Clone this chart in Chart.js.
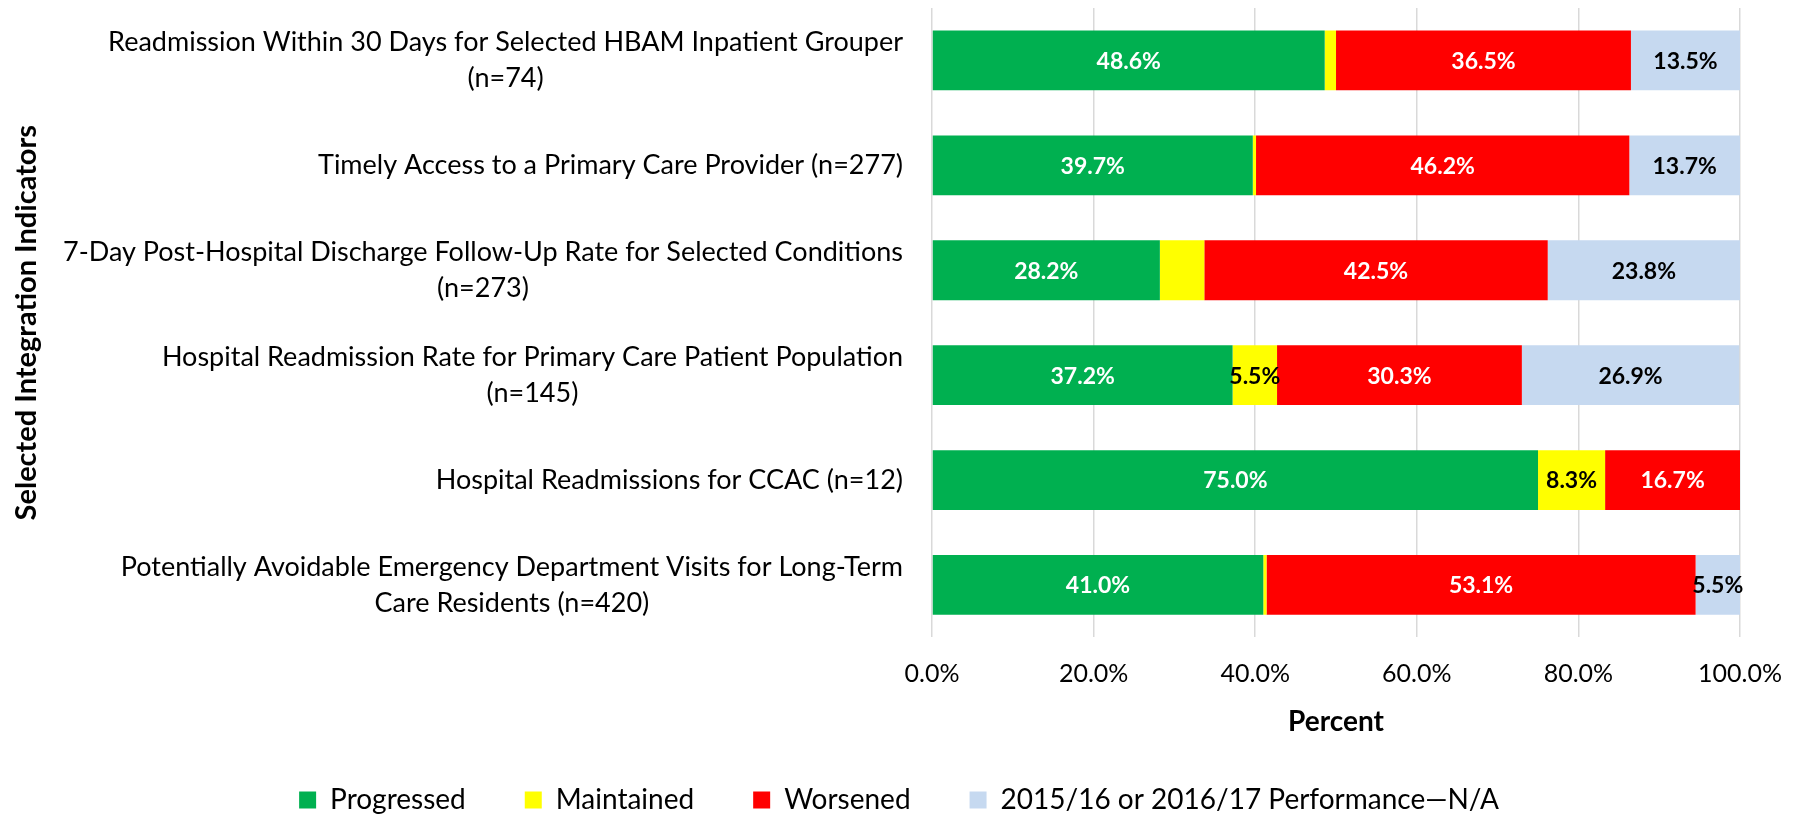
<!DOCTYPE html>
<html><head><meta charset="utf-8">
<script src="https://cdn.jsdelivr.net/npm/chart.js@4.4.1/dist/chart.umd.min.js"></script>
<style>html,body{margin:0;padding:0;background:#fff}#wrap{width:1804px;height:817px;position:relative}</style>
</head><body><div id="wrap"><canvas id="c"></canvas></div>
<script>
const categories = [
  ["Readmission Within 30 Days for Selected HBAM Inpatient Grouper", "(n=74)"],
  ["Timely Access to a Primary Care Provider (n=277)"],
  ["7-Day Post-Hospital Discharge Follow-Up Rate for Selected Conditions", "(n=273)"],
  ["Hospital Readmission Rate for Primary Care Patient Population", "(n=145)"],
  ["Hospital Readmissions for CCAC (n=12)"],
  ["Potentially Avoidable Emergency Department Visits for Long-Term", "Care Residents (n=420)"]
];
const progressed   = [48.6, 39.7, 28.2, 37.2, 75.0, 41.0];
const maintained   = [1.4, 0.4, 5.5, 5.5, 8.3, 0.4];
const worsened     = [36.5, 46.2, 42.5, 30.3, 16.7, 53.1];
const notAvailable = [13.5, 13.7, 23.8, 26.9, 0, 5.5];
const maintainedLabelShown = [false, false, false, true, true, false];
const seriesNames = ["Progressed", "Maintained", "Worsened", "2015/16 or 2016/17 Performance\u2014N/A"];
const xTickValues = [0, 20, 40, 60, 80, 100];
const xAxisTitle = "Percent";
const yAxisTitle = "Selected Integration Indicators";

const FONT = "Lato";
const colors = ["#00B050", "#FFFF00", "#FF0000", "#C6D9F0"];
const labelColors = ["#FFFFFF", "#000000", "#FFFFFF", "#000000"];

const dataLabelPlugin = {
  id: "dataLabels",
  afterDatasetsDraw(chart) {
    const ctx = chart.ctx;
    ctx.save();
    ctx.font = "bold 23px " + FONT;
    ctx.textAlign = "center";
    ctx.textBaseline = "middle";
    chart.data.datasets.forEach((ds, di) => {
      const meta = chart.getDatasetMeta(di);
      meta.data.forEach((bar, i) => {
        const v = ds.data[i];
        if (!v) return;
        if (di === 1 && !maintainedLabelShown[i]) return;
        const cx = (bar.x + bar.base) / 2;
        ctx.fillStyle = labelColors[di];
        ctx.fillText(v.toFixed(1) + "%", cx, bar.y + 1);
      });
    });
    ctx.restore();
  }
};

const catLabelPlugin = {
  id: "catLabels",
  afterDraw(chart) {
    const ctx = chart.ctx;
    const ys = chart.scales.y;
    const right = chart.chartArea.left - 29;
    ctx.save();
    ctx.font = "27px " + FONT;
    ctx.fillStyle = "#000";
    ctx.textAlign = "center";
    ctx.textBaseline = "middle";
    const lh = 36;
    categories.forEach((lines, i) => {
      const y = ys.getPixelForTick(i);
      const w = Math.max(...lines.map(l => ctx.measureText(l).width));
      const cx = right - w / 2;
      const y0 = y - (lines.length - 1) * lh / 2;
      lines.forEach((l, k) => ctx.fillText(l, cx, y0 + k * lh));
    });
    ctx.restore();
  }
};

new Chart(document.getElementById("c"), {
  type: "bar",
  data: {
    labels: categories,
    datasets: [progressed, maintained, worsened, notAvailable].map((d, i) => ({
      label: seriesNames[i],
      data: d,
      backgroundColor: colors[i],
      borderWidth: 0,
      categoryPercentage: 1,
      barPercentage: 0.57
    }))
  },
  options: {
    indexAxis: "y",
    responsive: true,
    maintainAspectRatio: false,
    animation: false,
    layout: { padding: { top: 8, right: 20, bottom: -7, left: 14 } },
    plugins: {
      legend: {
        position: "bottom",
        labels: {
          font: { family: FONT, size: 28 },
          color: "#000",
          boxWidth: 17,
          boxHeight: 17,
          padding: 59
        }
      },
      tooltip: { enabled: false }
    },
    scales: {
      x: {
        stacked: true,
        min: 0,
        max: 100,
        afterBuildTicks(scale) { scale.ticks = xTickValues.map(v => ({ value: v })); },
        ticks: {
          font: { family: FONT, size: 25 },
          color: "#000",
          padding: 22,
          maxRotation: 0,
          callback: v => Number(v).toFixed(1) + "%"
        },
        grid: { color: "#D9D9D9", lineWidth: 1.5, drawTicks: false },
        border: { display: false },
        title: {
          display: true,
          text: xAxisTitle,
          font: { family: FONT, size: 28, weight: "bold" },
          color: "#000",
          padding: { top: -6, bottom: -12 }
        }
      },
      y: {
        stacked: true,
        afterFit(scale) { scale.width = 918; },
        ticks: { display: false },
        grid: { display: false },
        border: { display: false },
        title: {
          display: true,
          text: yAxisTitle,
          font: { family: FONT, size: 29, weight: "bold" },
          color: "#000",
          padding: { top: -5, bottom: 4 }
        }
      }
    }
  },
  plugins: [dataLabelPlugin, catLabelPlugin]
});
</script>
</body></html>
